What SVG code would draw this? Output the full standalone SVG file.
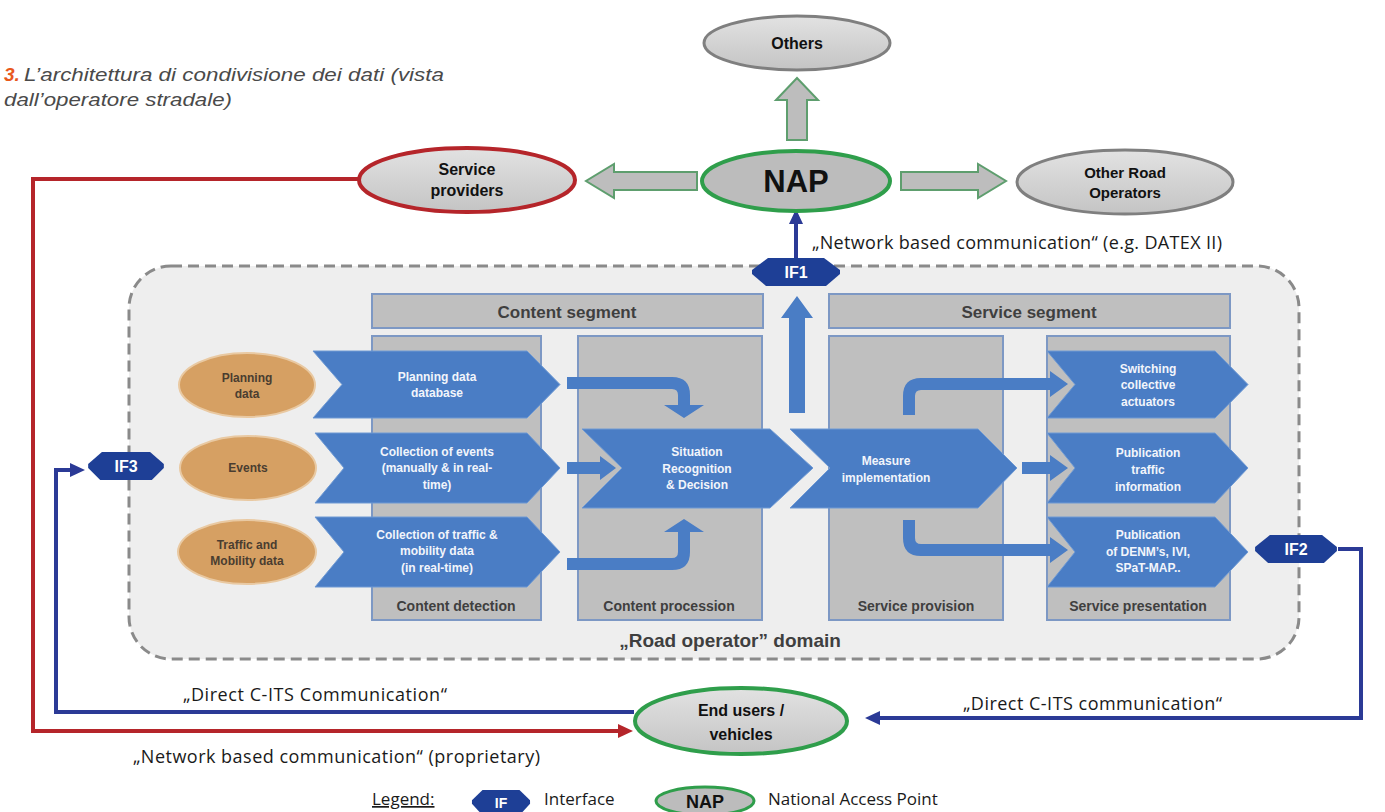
<svg xmlns="http://www.w3.org/2000/svg" width="1385" height="812" viewBox="0 0 1385 812">
<defs>
<style>
.sans{font-family:"Liberation Sans",Arial,sans-serif}
.lbl{font-family:"Liberation Sans",Arial,sans-serif;font-weight:bold;font-size:16px;fill:#111;text-anchor:middle}
.con{font-family:"Open Sans","Liberation Sans",sans-serif;font-size:18px;fill:#1a1a1a}
.chev{fill:#4a7dc5;stroke:#6f9ad4;stroke-width:1}
.chevt{font-family:"Liberation Sans",Arial,sans-serif;font-weight:bold;font-size:12px;fill:#f2f5fb;text-anchor:middle}
.col{fill:#bfbfbf;stroke:#7d98c4;stroke-width:2}
.colt{font-family:"Liberation Sans",Arial,sans-serif;font-weight:bold;font-size:14px;fill:#3f3f3f;text-anchor:middle}
.hdrt{font-family:"Liberation Sans",Arial,sans-serif;font-weight:bold;font-size:17px;fill:#3f3f3f;text-anchor:middle}
.orng{fill:#d6a063;stroke:#e9c9a2;stroke-width:2}
.orngt{font-family:"Liberation Sans",Arial,sans-serif;font-weight:bold;font-size:12px;fill:#4a3d30;text-anchor:middle}
.gell{fill:url(#gg);stroke:#7f7f7f;stroke-width:3}
.green{stroke:#2f9e4b;stroke-width:4}
.blk{fill:#bdbdbd;stroke:#5e9e6e;stroke-width:2}
.ifs{fill:#1e3f96}
.ift{font-family:"Liberation Sans",Arial,sans-serif;font-weight:bold;font-size:16px;fill:#fff;text-anchor:middle}
.bl{fill:none;stroke:#2b3a96;stroke-width:4}
.rd{fill:none;stroke:#b5252a;stroke-width:4}
.sm{fill:#4a7dc5}
</style>
<linearGradient id="gg" x1="0" y1="0" x2="0" y2="1">
<stop offset="0" stop-color="#e2e2e2"/><stop offset="1" stop-color="#c4c4c4"/>
</linearGradient>
<marker id="ab" markerUnits="userSpaceOnUse" markerWidth="16" markerHeight="16" refX="2" refY="8" orient="auto"><path d="M0,1 L15,8 L0,15 Z" fill="#2b3a96"/></marker>
<marker id="ar" markerUnits="userSpaceOnUse" markerWidth="16" markerHeight="16" refX="2" refY="8" orient="auto"><path d="M0,1 L15,8 L0,15 Z" fill="#b5252a"/></marker>
<path id="hex" d="M-28,-14 L28,-14 L44,-2 L44,2 L30,14 L-30,14 L-44,2 L-44,-2 Z"/>
</defs>
<rect width="1385" height="812" fill="#ffffff"/>

<g id="title">
<text x="4" y="81" class="sans" font-size="19" font-style="italic" font-weight="bold" fill="#e8581c">3.</text>
<text x="24" y="81" class="sans" font-size="18" font-style="italic" fill="#4a4a4a" textLength="420" lengthAdjust="spacingAndGlyphs">L’architettura di condivisione dei dati (vista</text>
<text x="4" y="106" class="sans" font-size="18" font-style="italic" fill="#4a4a4a" textLength="228" lengthAdjust="spacingAndGlyphs">dall’operatore stradale)</text>
</g>

<g id="domain">
<rect x="129" y="266" width="1170" height="393" rx="42" fill="#eeeeee" stroke="#8a8a8a" stroke-width="3" stroke-dasharray="11,6"/>
<text x="730" y="647" class="sans" font-size="19" font-weight="bold" fill="#3f3f3f" text-anchor="middle">„Road operator” domain</text>
</g>

<g id="content-segment">
<rect x="372" y="294" width="391" height="34" class="col"/>
<text x="567" y="318" class="hdrt">Content segment</text>
</g>
<g id="service-segment">
<rect x="829" y="294" width="401" height="34" class="col"/>
<text x="1029" y="318" class="hdrt">Service segment</text>
</g>
<g id="content-detection">
<rect x="372" y="336" width="169" height="284" class="col"/>
<text x="456" y="611" class="colt">Content detection</text>
</g>
<g id="content-procession">
<rect x="578" y="336" width="184" height="284" class="col"/>
<text x="669" y="611" class="colt">Content procession</text>
</g>
<g id="service-provision">
<rect x="829" y="336" width="174" height="284" class="col"/>
<text x="916" y="611" class="colt">Service provision</text>
</g>
<g id="service-presentation">
<rect x="1047" y="336" width="183" height="284" class="col"/>
<text x="1138" y="611" class="colt">Service presentation</text>
</g>

<g id="connectors">
<path class="blk" d="M787,140 V100 H776 L797,78 L818,100 H807 V140 Z"/>
<path class="blk" d="M697,172 H614 V164 L586,181 L614,198 V190 H697 Z"/>
<path class="blk" d="M901,172 H978 V164 L1006,181 L978,198 V190 H901 Z"/>
<path class="sm" d="M567,377 H672 Q690,377 690,395 V405 H704 L684,418 L664,405 H678 V395 Q678,389 672,389 H567 Z"/>
<path class="sm" d="M567,462 H600 V456 L616,468 L600,480 V474 H567 Z"/>
<path class="sm" d="M567,558 H672 Q678,558 678,552 V532 H664 L684,519 L704,532 H690 V552 Q690,570 672,570 H567 Z"/>
<path class="sm" d="M789,413 V318 H781 L797,296 L813,318 H805 V413 Z"/>
<path class="sm" d="M903,415 V396 Q903,378 921,378 H1050 V371 L1068,384 L1050,397 V390 H921 Q915,390 915,396 V415 Z"/>
<path class="sm" d="M1022,462 H1050 V455 L1068,468 L1050,481 V474 H1022 Z"/>
<path class="sm" d="M903,520 V538 Q903,556 921,556 H1050 V563 L1068,550 L1050,537 V544 H921 Q915,544 915,538 V520 Z"/>
<path class="bl" d="M796,258 V222" marker-end="url(#ab)"/>
<path class="rd" d="M359,179 H33 V731 H620" marker-end="url(#ar)"/>
<path class="bl" d="M634,712 H56 V470 H72" marker-end="url(#ab)"/>
<path class="bl" d="M1338,549 H1361 V718 H878" marker-end="url(#ab)"/>
<text x="812" y="249" class="con" textLength="410">„Network based communication“ (e.g. DATEX II)</text>
<text x="183" y="701" class="con" textLength="264">„Direct C-ITS Communication“</text>
<text x="133" y="763" class="con" textLength="407">„Network based communication“ (proprietary)</text>
<text x="963" y="710" class="con" textLength="259">„Direct C-ITS communication“</text>
</g>

<g id="others">
<ellipse cx="797" cy="43" rx="93" ry="27" class="gell"/>
<text x="797" y="49" class="lbl">Others</text>
</g>
<g id="nap">
<ellipse cx="796" cy="181" rx="94" ry="30" fill="#bcbcbc" class="green"/>
<text x="796" y="192" class="lbl" style="font-size:31px">NAP</text>
</g>
<g id="service-providers">
<ellipse cx="467" cy="180" rx="108" ry="32" fill="url(#gg)" stroke="#b5252a" stroke-width="4"/>
<text x="467" y="175" class="lbl">Service</text>
<text x="467" y="196" class="lbl">providers</text>
</g>
<g id="other-road-operators">
<ellipse cx="1125" cy="182" rx="108" ry="32" class="gell"/>
<text x="1125" y="178" class="lbl" style="font-size:15px">Other Road</text>
<text x="1125" y="198" class="lbl" style="font-size:15px">Operators</text>
</g>
<g id="end-users">
<ellipse cx="741" cy="721" rx="106" ry="33" fill="url(#gg)" class="green"/>
<text x="741" y="716" class="lbl">End users /</text>
<text x="741" y="740" class="lbl">vehicles</text>
</g>

<g id="if1"><use href="#hex" class="ifs" transform="translate(796,272)"/><text x="796" y="278" class="ift">IF1</text></g>
<g id="if2"><use href="#hex" class="ifs" transform="translate(1296,549) scale(0.93,1)"/><text x="1296" y="555" class="ift">IF2</text></g>
<g id="if3"><use href="#hex" class="ifs" transform="translate(126,466) scale(0.86,1)"/><text x="126" y="472" class="ift">IF3</text></g>

<g id="planning-data"><ellipse cx="247" cy="385" rx="68" ry="32" class="orng"/><text x="247" y="382" class="orngt">Planning</text><text x="247" y="398" class="orngt">data</text></g>
<g id="events"><ellipse cx="248" cy="468" rx="68" ry="32" class="orng"/><text x="248" y="472" class="orngt">Events</text></g>
<g id="traffic-mobility"><ellipse cx="247" cy="552" rx="69" ry="32" class="orng"/><text x="247" y="549" class="orngt">Traffic and</text><text x="247" y="565" class="orngt">Mobility data</text></g>

<g id="planning-db"><path class="chev" d="M313,351 L527,351 L560,384.5 L527,418 L313,418 L342,384.5 Z"/><text x="437" y="381" class="chevt">Planning data</text><text x="437" y="397" class="chevt">database</text></g>
<g id="collection-events"><path class="chev" d="M315,433 L527,433 L560,468 L527,503 L315,503 L344,468 Z"/><text x="437" y="456" class="chevt">Collection of events</text><text x="437" y="472" class="chevt">(manually &amp; in real-</text><text x="437" y="489" class="chevt">time)</text></g>
<g id="collection-traffic"><path class="chev" d="M315,517 L527,517 L560,552 L527,587 L315,587 L344,552 Z"/><text x="437" y="539" class="chevt">Collection of traffic &amp;</text><text x="437" y="555" class="chevt">mobility data</text><text x="437" y="572" class="chevt">(in real-time)</text></g>

<g id="situation"><path class="chev" d="M582,429 L770,429 L813,468 L770,508 L582,508 L622,468 Z"/><text x="697" y="456" class="chevt">Situation</text><text x="697" y="473" class="chevt">Recognition</text><text x="697" y="489" class="chevt">&amp; Decision</text></g>
<g id="measure"><path class="chev" d="M790,429 L978,429 L1017,468 L978,508 L790,508 L830,468 Z"/><text x="886" y="465" class="chevt">Measure</text><text x="886" y="482" class="chevt">implementation</text></g>

<g id="switching"><path class="chev" d="M1047,351 L1215,351 L1248,384.5 L1215,418 L1047,418 L1075,384.5 Z"/><text x="1148" y="373" class="chevt">Switching</text><text x="1148" y="389" class="chevt">collective</text><text x="1148" y="406" class="chevt">actuators</text></g>
<g id="pub-traffic"><path class="chev" d="M1047,433 L1215,433 L1248,468 L1215,503 L1047,503 L1075,468 Z"/><text x="1148" y="457" class="chevt">Publication</text><text x="1148" y="474" class="chevt">traffic</text><text x="1148" y="491" class="chevt">information</text></g>
<g id="pub-denm"><path class="chev" d="M1047,517 L1215,517 L1248,552 L1215,587 L1047,587 L1075,552 Z"/><text x="1148" y="539" class="chevt">Publication</text><text x="1148" y="556" class="chevt">of DENM’s, IVI,</text><text x="1148" y="572" class="chevt">SPaT-MAP..</text></g>

<g id="legend">
<text x="372" y="805" class="con" style="font-size:17px" text-decoration="underline">Legend:</text>
<use href="#hex" class="ifs" transform="translate(501,802) scale(0.66,0.85)"/>
<text x="501" y="808" class="ift" style="font-size:14px">IF</text>
<text x="544" y="805" class="con" style="font-size:17px">Interface</text>
<ellipse cx="705" cy="801" rx="49" ry="14" fill="#bcbcbc" stroke="#2f9e4b" stroke-width="3"/>
<text x="705" y="808" class="lbl" style="font-size:18px">NAP</text>
<text x="768" y="805" class="con" style="font-size:17px">National Access Point</text>
</g>
</svg>
